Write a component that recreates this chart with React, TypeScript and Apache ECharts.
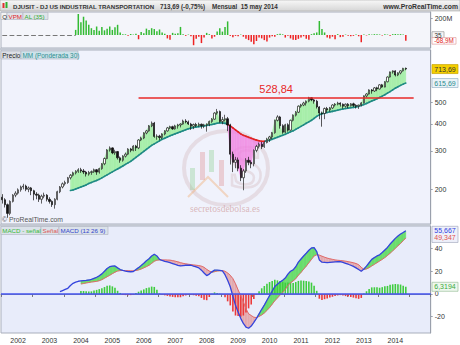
import { useEffect, useRef } from 'react';
import * as echarts from 'echarts';

// ---------- categories (monthly, Jul 2001 .. Feb 2015 slots) ----------
const startYear = 2001;
const startMonth = 7;
const totalSlots = 164;
const months: string[] = Array.from({ length: totalSlots }, (_, k) => {
  const m = startMonth - 1 + k;
  return `${startYear + Math.floor(m / 12)}-${String((m % 12) + 1).padStart(2, '0')}`;
});
const yearTickLabels = ['2002', '2003', '2004', '2005', '2006', '2007', '2008', '2009', '2010', '2011', '2012', '2013', '2014'];

// ---------- price candles [open, close, low, high] ----------
const candles: number[][] = [
  [184, 179, 172, 190], [179, 170, 165, 182], [170, 155, 148, 172], [155, 176, 152, 178], [176, 188, 174, 190], [188, 192, 184, 196],
  [192, 199, 189, 202], [199, 205, 195, 208], [205, 207, 200, 212], [207, 200, 196, 210], [200, 203, 194, 206], [203, 197, 188, 205],
  [197, 190, 178, 199], [190, 188, 180, 194], [188, 180, 175, 191], [180, 186, 172, 189], [186, 188, 182, 193], [188, 180, 176, 190],
  [180, 176, 172, 184], [176, 170, 166, 178], [170, 180, 163, 182], [180, 195, 178, 197], [195, 205, 192, 207], [205, 212, 202, 215],
  [212, 215, 208, 219], [215, 226, 212, 228], [226, 232, 222, 235], [232, 238, 229, 241], [238, 242, 234, 245], [242, 246, 238, 250],
  [246, 243, 238, 251], [243, 240, 235, 248], [240, 235, 229, 243], [235, 239, 231, 243], [239, 241, 233, 244], [241, 246, 238, 249],
  [246, 240, 233, 248], [240, 249, 236, 251], [249, 262, 246, 264], [262, 277, 258, 280], [277, 303, 275, 306], [303, 310, 298, 315],
  [310, 294, 290, 312], [294, 298, 288, 304], [298, 279, 274, 300], [279, 272, 265, 283], [272, 284, 268, 287], [284, 290, 280, 295],
  [290, 306, 287, 309], [306, 302, 296, 310], [302, 316, 299, 319], [316, 310, 300, 320], [310, 337, 306, 340], [337, 344, 333, 349],
  [344, 363, 340, 366], [363, 371, 358, 375], [371, 391, 368, 395], [391, 403, 386, 410], [403, 350, 345, 408], [350, 351, 338, 358],
  [351, 346, 336, 356], [346, 359, 340, 362], [359, 371, 354, 374], [371, 383, 368, 387], [383, 388, 378, 392], [388, 379, 375, 392],
  [379, 391, 376, 396], [391, 395, 380, 400], [395, 399, 385, 402], [399, 412, 396, 418], [412, 408, 402, 420], [408, 399, 395, 414],
  [399, 390, 375, 404], [390, 397, 378, 401], [397, 393, 386, 404], [393, 398, 388, 405], [398, 392, 380, 401], [392, 395, 382, 400],
  [395, 398, 368, 402], [398, 410, 390, 414], [410, 420, 404, 425], [420, 448, 417, 452], [448, 455, 440, 468], [455, 410, 405, 460],
  [410, 418, 398, 430], [418, 422, 410, 440], [422, 395, 370, 430], [395, 290, 260, 400], [290, 266, 240, 298], [266, 273, 250, 282],
  [273, 250, 242, 280], [250, 226, 218, 258], [226, 243, 198, 248], [243, 272, 238, 278], [272, 266, 258, 282], [266, 262, 250, 272],
  [262, 302, 255, 305], [302, 315, 296, 320], [315, 322, 308, 328], [322, 314, 306, 330], [314, 328, 310, 332], [328, 340, 325, 345],
  [340, 348, 330, 352], [348, 364, 340, 367], [364, 415, 360, 418], [415, 430, 410, 438], [430, 392, 380, 435], [392, 366, 360, 398],
  [366, 396, 362, 400], [396, 374, 368, 402], [374, 415, 372, 418], [415, 438, 410, 442], [438, 452, 432, 458], [452, 482, 448, 486],
  [482, 488, 474, 494], [488, 498, 482, 505], [498, 508, 485, 512], [508, 527, 502, 532], [527, 515, 508, 530], [515, 508, 495, 520],
  [508, 478, 470, 515], [478, 448, 420, 482], [448, 446, 388, 455], [446, 470, 420, 475], [470, 463, 450, 478], [463, 473, 455, 478],
  [473, 488, 468, 492], [488, 492, 480, 498], [492, 498, 486, 505], [498, 492, 480, 502], [492, 482, 470, 496], [482, 492, 475, 496],
  [492, 484, 472, 498], [484, 494, 480, 498], [494, 486, 478, 500], [486, 482, 470, 492], [482, 487, 468, 490], [487, 499, 482, 503],
  [499, 537, 496, 540], [537, 548, 528, 553], [548, 572, 545, 576], [572, 566, 550, 578], [566, 585, 560, 590], [585, 578, 565, 592],
  [578, 604, 575, 608], [604, 590, 585, 610], [590, 624, 588, 628], [624, 656, 620, 660], [656, 692, 652, 695], [692, 700, 680, 704],
  [700, 670, 660, 705], [670, 685, 662, 690], [685, 700, 675, 705], [700, 719, 695, 723], [719, 713.69, 705, 725],
];

// ---------- weighted moving average (30) ----------
const maValues: (number | null)[] = [
  ...Array(26).fill(null),
  197.5, 198.6, 200.7, 203, 205, 207, 209.5, 212.7, 215, 217.5, 219.8, 222.2, 225.7, 229.4,
  233, 236.8, 240.4, 244.3, 248, 252, 256, 260.5, 264.6, 268.8, 274.6, 280.5, 286.5, 292.6,
  299, 305.3, 311.8, 318.5, 323.5, 328.7, 334, 339.4, 343, 347.7, 352, 355.8, 359.6, 363.4,
  367.3, 371.2, 375.2, 379.2, 382, 384.5, 386.5, 388, 389.8, 391.4, 393, 394.7, 397.2, 399.7,
  402.3, 404, 404, 401.8, 397.6, 391.4, 383.2, 375.2, 367.3, 359.6, 354, 350.2, 346.5, 343,
  339.4, 336.5, 334, 332.3, 332.3, 334, 335.8, 339.4, 343, 346.5, 350.2, 354, 357.7, 362.6,
  367.3, 371.2, 377.2, 383.2, 389.4, 395.6, 402, 408.4, 415, 423.8, 432.8, 439.7, 444.4, 447.7,
  451, 453.9, 456, 459, 462, 465, 467.5, 470, 472, 474, 476, 478, 481, 485, 490, 496, 502,
  508.5, 515, 521.5, 528.5, 536, 544, 553, 562.5, 572.5, 583, 592, 600.5, 608.5, 615.69,
];

// ---------- MACD (12 26 9) ----------
const macdValues: (number | null)[] = [
  ...Array(22).fill(null),
  2.0, 3.0, 4.0, 5.0, 7.5, 9.4, 10.5, 11.2,
  11.5, 11.8, 12.0, 12.3, 12.8, 13.8, 14.7, 16.0, 17.7, 20.0,
  22.5, 24.0, 24.6, 24.7, 23.0, 21.5, 20.8, 20.2, 19.7, 19.6,
  19.8, 21.5, 23.2, 25.0, 27.0, 29.3, 31.0, 33.5, 35.0, 33.5,
  30.5, 29.5, 28.8, 28.2, 27.6, 26.8, 26.0, 25.3, 24.7, 25.0,
  25.3, 25.5, 25.3, 24.5, 23.8, 23.0, 21.0, 18.5, 16.2, 17.5,
  19.5, 21.0, 21.0, 20.7, 20.3, 17.0, 12.0, 6.4, -2.0, -10.0,
  -16.0, -21.5, -26.0, -29.3, -30.2, -28.3, -25.0, -21.5, -17.5, -13.5,
  -9.8, -5.5, -1.5, 2.5, 6.5, 8.5, 10.5, 12.0, 14.0, 17.5,
  20.0, 21.2, 24.0, 28.0, 30.8, 33.5, 35.9, 38.5, 40.5, 40.8,
  37.3, 30.0, 28.0, 27.8, 27.6, 27.8, 28.0, 28.2, 28.4, 28.5,
  27.8, 27.0, 26.2, 25.3, 24.3, 23.0, 21.5, 20.0, 22.0, 24.5,
  27.5, 30.5, 32.0, 33.5, 34.5, 36.5, 38.8, 41.0, 44.0, 46.5,
  49.0, 51.0, 52.8, 54.2, 55.667,
];
const signalValues: (number | null)[] = [
  ...Array(30).fill(null),
  8.8, 9.2, 9.7, 10.1, 10.5, 10.8, 11.1, 11.7, 12.6, 13.9,
  15.2, 16.5, 17.9, 19.2, 20.2, 20.6, 20.7, 20.6, 20.5, 20.4,
  20.4, 20.7, 21.2, 22.0, 23.0, 24.1, 25.3, 27.0, 28.8, 29.8,
  30.0, 30.0, 30.0, 29.9, 29.8, 29.4, 28.9, 28.3, 27.6, 27.0,
  26.6, 26.2, 25.9, 25.6, 25.3, 25.0, 24.5, 23.5, 21.7, 20.2,
  19.2, 19.6, 20.2, 20.4, 20.6, 20.0, 18.5, 16.5, 13.5, 9.0,
  3.5, -1.5, -7.0, -13.0, -17.5, -19.0, -20.5, -20.8, -19.8, -18.5,
  -16.8, -14.5, -12.0, -9.0, -6.0, -3.5, -1.0, 1.5, 4.0, 7.5,
  9.8, 11.5, 13.5, 16.5, 19.0, 21.8, 24.5, 27.5, 30.5, 33.5,
  34.5, 34.2, 33.3, 32.4, 31.6, 31.0, 30.5, 30.0, 29.7, 29.5,
  29.2, 28.9, 28.5, 28.0, 27.5, 26.8, 25.8, 23.5, 21.6, 22.1,
  23.2, 24.7, 26.1, 27.6, 29.0, 30.5, 32.1, 33.9, 35.9, 38.0,
  40.2, 42.4, 44.5, 47.0, 49.347,
];
const histValues: (number | null)[] = [
  ...Array(30).fill(null),
  2.7, 2.6, 2.3, 2.2, 2.3, 3.0, 3.6, 4.3, 5.1, 6.1,
  7.3, 7.5, 6.7, 5.5, 2.8, 0.9, -0.6, -1.0, -1.2, -1.0,
  -0.6, 0.8, 2.0, 3.0, 4.0, 5.2, 5.7, 6.5, 6.2, 3.7,
  0.5, -0.5, -1.2, -1.7, -2.2, -2.6, -2.9, -3.0, -2.9, -2.0,
  -1.3, -0.7, -0.6, -1.1, -1.5, -2.0, -3.5, -5.0, -5.5, -2.7,
  0.3, 1.4, 0.8, 0.3, -0.3, -3.0, -6.5, -10.1, -15.5, -19.0,
  -19.5, -20.0, -19.0, -16.3, -12.7, -9.3, -4.5, -0.7, 2.3, 5.0,
  7.0, 9.0, 10.5, 11.5, 12.5, 12.0, 11.5, 10.5, 10.0, 10.0,
  10.2, 9.7, 10.5, 11.5, 11.8, 11.7, 11.4, 11.0, 10.0, 7.3,
  2.8, -4.2, -5.3, -4.6, -4.0, -3.2, -2.5, -1.8, -1.3, -1.0,
  -1.4, -1.9, -2.3, -2.7, -3.2, -3.8, -4.3, -3.5, 0.4, 2.4,
  4.3, 5.8, 5.9, 5.9, 5.5, 6.0, 6.7, 7.1, 8.1, 8.5,
  8.8, 8.6, 8.3, 7.2, 6.3194,
];

// ---------- VPM volume (millions) ----------
const volumeValues: (number | null)[] = [
  ...Array(28).fill(null),
  60, 247, 150, 215, 170, 120, 80, 60, 100, 50, 95, 55,
  75, 100, 60, 90, 120, 30, 10, 8, -8, 12, 5, 15,
  -50, 35, 20, 75, 60, 80, 70, 45, 65, 30, 15, -40,
  -55, 25, 15, 20, 95, 10, -10, 5, -15, -120, -45, -20,
  -95, -30, 25, 10, -40, -20, 40, 80, 40, 95, 160, -10,
  -25, -10, -15, 5, -20, -45, -60, -80, -110, -70, -30, -40,
  -60, -75, -30, -15, -20, 10, 15, 8, -30, -10, -40, -55,
  -60, -45, -30, -15, -45, -55, 10, 20, 30, 165, 70, 30,
  -30, -40, -20, -50, 10, -25, -20, 5, -10, -15, -10, 5,
  -15, -85, 5, -5, 8, 5, 10, 8, 6, -5, 8, 5,
  -8, 10, 12, 8, 10, 5, -68.9,
];

const priceTicks = [200, 300, 400, 500];
const macdTicks = [-20, 0, 20, 40];
const volumeTicks = [200];
const resistanceLevel = 528.84;

const FONT = '"Liberation Sans", Arial, sans-serif';

function bandFill(upper: (number | null)[], lower: (number | null)[], upColor: string, downColor: string,
  lineUp?: string, lineDown?: string) {
  return (_params: any, api: any) => {
    const i = api.value(0) as number;
    const a0 = upper[i], a1 = upper[i + 1], b0 = lower[i], b1 = lower[i + 1];
    if (a0 == null || a1 == null || b0 == null || b1 == null) return null;
    const A0 = api.coord([i, a0]), A1 = api.coord([i + 1, a1]);
    const B0 = api.coord([i, b0]), B1 = api.coord([i + 1, b1]);
    const d0 = B0[1] - A0[1];
    const d1 = B1[1] - A1[1];
    const children: any[] = [];
    const poly = (pts: number[][], col: string) => ({
      type: 'polygon', silent: true, shape: { points: pts },
      style: { fill: col, stroke: col, lineWidth: 0.4 },
    });
    const seg = (p: number[], q: number[], col: string) => ({
      type: 'line', silent: true, z2: 5,
      shape: { x1: p[0], y1: p[1], x2: q[0], y2: q[1] },
      style: { stroke: col, lineWidth: 1.6, lineCap: 'round' },
    });
    if ((d0 >= 0 && d1 >= 0) || (d0 <= 0 && d1 <= 0)) {
      const up = d0 + d1 >= 0;
      children.push(poly([A0, A1, B1, B0], up ? upColor : downColor));
      if (lineUp) children.push(seg(B0, B1, up ? lineUp : (lineDown as string)));
    } else {
      const t = d0 / (d0 - d1);
      const X = [A0[0] + t * (A1[0] - A0[0]), A0[1] + t * (A1[1] - A0[1])];
      const M = [B0[0] + t * (B1[0] - B0[0]), B0[1] + t * (B1[1] - B0[1])];
      children.push(poly([A0, X, B0], d0 > 0 ? upColor : downColor));
      children.push(poly([X, A1, B1], d1 > 0 ? upColor : downColor));
      if (lineUp) {
        children.push(seg(B0, M, d0 > 0 ? lineUp : (lineDown as string)));
        children.push(seg(M, B1, d1 > 0 ? lineUp : (lineDown as string)));
      }
    }
    return { type: 'group', children };
  };
}

export default function App() {
  const ref = useRef<HTMLDivElement>(null);

  useEffect(() => {
    const el = ref.current;
    if (!el) return;
    const chart = echarts.init(el, null, { renderer: 'svg' });
    const n = candles.length;
    const closes = candles.map((c) => c[1]);
    const lastClose = closes[n - 1];

    const priceBandData = maValues
      .map((v, i) => [i, v])
      .filter((d) => d[1] != null && (d[0] as number) < n - 1);
    const macdBandData = signalValues
      .map((v, i) => [i, v])
      .filter((d) => d[1] != null && (d[0] as number) < n - 1);

    const gridCommon = { left: 1, right: 29.3, show: true, borderColor: '#a9afbc', borderWidth: 1 };
    const xAxes = [0, 1, 2].map((g) => ({
      type: 'category',
      gridIndex: g,
      data: months,
      boundaryGap: true,
      show: g === 2,
      axisLine: { show: true, lineStyle: { color: '#8a8f9a' } },
      axisTick: { show: true, interval: (_i: number, v: string) => v.endsWith('-07'), length: 3, lineStyle: { color: '#777' } },
      axisLabel: {
        interval: (_i: number, v: string) => v.endsWith('-01'),
        formatter: (v: string) => yearTickLabels.find((y) => v.startsWith(y)) ?? '',
        fontSize: 7, color: '#333', margin: 4, fontFamily: FONT,
      },
      splitLine: { show: false },
    }));

    const yLabel = { fontSize: 7, color: '#333', margin: 4, fontFamily: FONT };
    const option: any = {
      animation: false,
      backgroundColor: '#ffffff',
      textStyle: { fontFamily: FONT },
      grid: [
        { ...gridCommon, top: 12, height: 36, backgroundColor: '#f4f5fa' },
        { ...gridCommon, top: 50, height: 174, backgroundColor: '#f0f2fc' },
        { ...gridCommon, top: 226, height: 107, backgroundColor: '#e8ecfa' },
      ],
      xAxis: xAxes,
      yAxis: [
        {
          type: 'value', gridIndex: 0, position: 'right', min: -152.9, max: 270.6,
          splitLine: { show: false }, axisLine: { show: true, lineStyle: { color: '#9aa0ac' } },
          axisTick: { show: true, length: 2, customValues: volumeTicks },
          axisLabel: { ...yLabel, customValues: volumeTicks, formatter: (v: number) => `${v}M` },
        },
        {
          type: 'log', logBase: 10, gridIndex: 1, position: 'right', min: 138.56, max: 873.1,
          splitLine: { show: false }, axisLine: { show: true, lineStyle: { color: '#9aa0ac' } },
          axisTick: { show: true, length: 2, customValues: priceTicks },
          axisLabel: { ...yLabel, customValues: priceTicks },
        },
        {
          type: 'value', gridIndex: 2, position: 'right', min: -34.4, max: 59.9,
          splitLine: { show: false }, axisLine: { show: true, lineStyle: { color: '#9aa0ac' } },
          axisTick: { show: true, length: 2, customValues: macdTicks },
          axisLabel: { ...yLabel, customValues: macdTicks },
        },
      ],
      series: [
        {
          type: 'bar', name: 'VPM', xAxisIndex: 0, yAxisIndex: 0, barWidth: 1.5,
          data: volumeValues.map((v) => (v == null ? null : {
            value: v, itemStyle: { color: v >= 0 ? '#33bb33' : '#ee2222' },
          })),
          markLine: {
            silent: true, symbol: ['none', 'none'], label: { show: false },
            lineStyle: { color: '#777', type: 'dashed', width: 1.2 },
            data: [[{ coord: [0, 0] }, { coord: [28, 0] }]],
          },
        },
        {
          type: 'custom', name: 'MMfill', xAxisIndex: 1, yAxisIndex: 1, clip: true,
          encode: { x: 0, y: 1 },
          data: priceBandData,
          renderItem: bandFill(closes, maValues, 'rgba(150,238,150,0.75)', 'rgba(240,130,225,0.75)', '#1f8a84', '#e02424'),
        },
        {
          type: 'candlestick', name: 'Precio', xAxisIndex: 1, yAxisIndex: 1, barWidth: 1.8,
          data: candles,
          itemStyle: { color: '#ffffff', color0: '#111111', borderColor: '#222222', borderColor0: '#111111', borderWidth: 0.7 },
          markLine: {
            silent: true, symbol: ['none', 'none'],
            lineStyle: { color: '#e82828', width: 1.5, type: 'solid' },
            label: {
              show: true, position: 'insideMiddleTop', distance: 3,
              formatter: () => resistanceLevel.toFixed(2).replace('.', ','),
              color: '#e82828', fontSize: 11, fontFamily: FONT,
            },
            data: [[{ coord: [52, resistanceLevel] }, { coord: [157, resistanceLevel] }]],
          },
        },
        {
          type: 'bar', name: 'MACD - señal', xAxisIndex: 2, yAxisIndex: 2, barWidth: 1.6,
          data: histValues.map((v) => (v == null ? null : {
            value: v, itemStyle: { color: v >= 0 ? '#3fcc3f' : '#ec3a3a' },
          })),
          markLine: {
            silent: true, symbol: ['none', 'none'], label: { show: false },
            lineStyle: { color: '#4455ee', width: 1.5, type: 'solid' },
            data: [{ yAxis: 0 }],
          },
        },
        {
          type: 'custom', name: 'MACDfill', xAxisIndex: 2, yAxisIndex: 2, clip: true,
          encode: { x: 0, y: 1 },
          data: macdBandData,
          renderItem: bandFill(macdValues, signalValues, 'rgba(95,220,95,0.9)', 'rgba(225,135,135,0.55)'),
        },
        {
          type: 'line', name: 'Señal', xAxisIndex: 2, yAxisIndex: 2, data: signalValues,
          showSymbol: false, lineStyle: { color: '#e06a6a', width: 1 }, connectNulls: false,
        },
        {
          type: 'line', name: 'MACD', xAxisIndex: 2, yAxisIndex: 2, data: macdValues,
          showSymbol: false, lineStyle: { color: '#3344dd', width: 1.3 }, connectNulls: false,
        },
      ],
    };

    chart.setOption(option);

    const py = (axis: number, v: number) => chart.convertToPixel({ yAxisIndex: axis } as any, v) as unknown as number;
    const txt = (x: number, y: number, text: string, fill: string, size = 7, align = 'left', weight = 'normal', z = 100) => ({
      type: 'text', z, silent: true,
      style: { x, y, text, fill, font: `${weight} ${size}px ${FONT}`, textAlign: align, textVerticalAlign: 'middle' },
    });
    const box = (x: number, y: number, w: number, h: number, fill: string, stroke: string, z = 99) => ({
      type: 'rect', z, silent: true, shape: { x, y, width: w, height: h }, style: { fill, stroke, lineWidth: 0.7 },
    });

    const yClose = py(1, lastClose);
    const yMA = py(1, maValues[n - 1] as number);
    const yMacd = py(2, macdValues[n - 1] as number);
    const ySig = py(2, signalValues[n - 1] as number);
    const yHist = py(2, histValues[n - 1] as number);
    const yVol0 = py(0, 0);
    const yVol = py(0, volumeValues[n - 1] as number);
    const fmt = (v: number, d: number) => v.toFixed(d).replace('.', ',');

    const wm = 'rgba(200,165,165,0.28)';
    const graphics: any[] = [
      // title bar
      {
        type: 'rect', z: 100, silent: true, shape: { x: 0, y: 0, width: 460, height: 11 },
        style: {
          fill: { type: 'linear', x: 0, y: 0, x2: 0, y2: 1, colorStops: [{ offset: 0, color: '#f8f8f8' }, { offset: 1, color: '#d6d6d6' }] },
          stroke: '#a8a8a8', lineWidth: 0.6,
        },
      },
      { type: 'rect', z: 101, silent: true, shape: { x: 2.5, y: 3, width: 2, height: 5 }, style: { fill: '#e03030' } },
      { type: 'rect', z: 101, silent: true, shape: { x: 5.5, y: 2, width: 2, height: 6 }, style: { fill: '#30b030' } },
      txt(13, 6, 'DJUSIT - DJ US INDUSTRIAL TRANSPORTATION', '#333', 6.1, 'left', 'bold', 101),
      txt(160, 6, `${fmt(lastClose, 2)} (-0,75%)`, '#333', 6.3, 'left', 'bold', 101),
      txt(212, 6, 'Mensual  15 may 2014', '#333', 6.3, 'left', 'bold', 101),
      txt(458, 6, 'www.ProRealTime.com', '#333', 6.8, 'right', 'bold', 101),
      // panel separators
      { type: 'rect', z: 98, silent: true, shape: { x: 0, y: 48, width: 431, height: 2 }, style: { fill: '#c3c8d2' } },
      { type: 'rect', z: 98, silent: true, shape: { x: 0, y: 224, width: 431, height: 2 }, style: { fill: '#c3c8d2' } },
      // volume legend
      box(1, 12.5, 6, 7, '#f4f4f4', '#b4b9c4'),
      box(7, 12.5, 16, 7, '#dfe3ea', '#b4b9c4'),
      box(23, 12.5, 25, 7, '#dfe3ea', '#b4b9c4'),
      txt(2.2, 16, 'Q', '#333', 6.2),
      txt(8.5, 16, 'VPM', '#e02424', 6.2),
      txt(24.5, 16, 'AL (35)', '#2faa2f', 6.2),
      // price legend
      box(1, 51, 20, 8, '#dcdfe7', '#b4b9c4'),
      box(21, 51, 57, 8, '#cde2ea', '#b4b9c4'),
      txt(2.3, 55, 'Precio', '#222', 6.4),
      txt(22.5, 55, 'MM (Ponderada 30)', '#2b8f8f', 6.4),
      txt(2, 219, '© ProRealTime.com', '#555', 6.8),
      // MACD legend
      box(1, 226.5, 40, 8, '#dbe2ea', '#b4b9c4'),
      box(41, 226.5, 18, 8, '#dbe2ea', '#b4b9c4'),
      box(59, 226.5, 49, 8, '#dbe2ea', '#b4b9c4'),
      txt(2.3, 230.5, 'MACD - señal', '#36b836', 6.2),
      txt(42.5, 230.5, 'Señal', '#dd5555', 6.2),
      txt(60.5, 230.5, 'MACD (12 26 9)', '#3344cc', 6.2),
      // watermark logo
      { type: 'ellipse', z: 1, silent: true, shape: { cx: 226, cy: 168, rx: 42, ry: 37 }, style: { fill: 'none', stroke: wm, lineWidth: 4 } },
      { type: 'rect', z: 1, silent: true, shape: { x: 190, y: 168, width: 5, height: 22 }, style: { fill: 'rgba(120,200,120,0.3)' } },
      { type: 'rect', z: 1, silent: true, shape: { x: 200, y: 152, width: 5, height: 28 }, style: { fill: 'rgba(220,120,120,0.3)' } },
      { type: 'rect', z: 1, silent: true, shape: { x: 209, y: 150, width: 5, height: 22 }, style: { fill: 'rgba(120,200,120,0.3)' } },
      { type: 'rect', z: 1, silent: true, shape: { x: 219, y: 160, width: 5, height: 26 }, style: { fill: 'rgba(220,120,120,0.3)' } },
      { type: 'polyline', z: 1, silent: true, shape: { points: [[188, 197], [208, 177], [228, 197]] }, style: { stroke: 'rgba(240,170,110,0.4)', lineWidth: 2, fill: 'none' } },
      {
        type: 'text', z: 1, silent: true,
        style: { x: 246, y: 166, text: 'S', fill: 'none', stroke: wm, lineWidth: 2.5, font: `bold 62px "Liberation Serif", serif`, textAlign: 'center', textVerticalAlign: 'middle' },
      },
      {
        type: 'text', z: 1, silent: true,
        style: { x: 225, y: 209, text: 'secretosdebolsa.es', fill: 'rgba(205,150,150,0.65)', font: `9.5px "Liberation Serif", serif`, textAlign: 'center', textVerticalAlign: 'middle' },
      },
      // right-side value badges
      box(432, yVol0 - 3.3, 12, 6.6, '#f6f6f6', '#9a9a9a'),
      txt(438, yVol0, '35', '#333', 6.3, 'center'),
      box(432, yVol - 3.3, 24, 6.6, '#ffffff', '#e3a0a0'),
      txt(444, yVol, `${fmt(volumeValues[n - 1] as number, 1)}M`, '#e02020', 6.3, 'center'),
      box(432, yClose - 4.5, 26, 9, '#f4cf00', '#c7a400'),
      txt(445, yClose, fmt(lastClose, 2), '#333', 7, 'center'),
      box(432, yMA - 4.5, 26, 9, '#eaf2f8', '#98b4c8'),
      txt(445, yMA, fmt(maValues[n - 1] as number, 2), '#2b8d8d', 7, 'center'),
      box(432, yMacd - 4.5, 26, ySig - yMacd + 9, '#eef0fa', '#a8aec0'),
      txt(445, yMacd, fmt(macdValues[n - 1] as number, 3), '#3040e0', 7, 'center'),
      txt(445, ySig, fmt(signalValues[n - 1] as number, 3), '#e05050', 7, 'center'),
      box(432, yHist - 4.5, 26, 9, '#eef7ee', '#9cc09c'),
      txt(445, yHist, fmt(histValues[n - 1] as number, 4), '#3aaa3a', 7, 'center'),
    ];
    chart.setOption({ graphic: { elements: graphics } });

    return () => chart.dispose();
  }, []);

  return (
    <div
      ref={ref}
      style={{ position: 'fixed', left: 0, top: 0, width: 460, height: 345, background: '#ffffff' }}
    />
  );
}
